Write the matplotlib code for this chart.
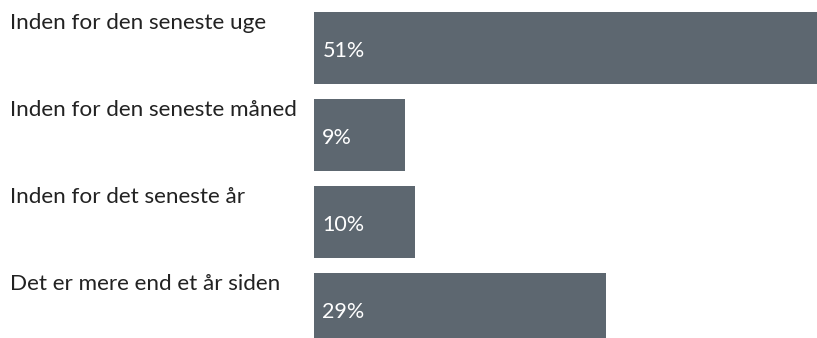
import matplotlib
matplotlib.use("Agg")
import matplotlib.pyplot as plt
from matplotlib.transforms import blended_transform_factory

# Survey answers: when did you last ...
categories = [
    "Inden for den seneste uge",
    "Inden for den seneste måned",
    "Inden for det seneste år",
    "Det er mere end et år siden",
]
values = [51, 9, 10, 29]
value_labels = ["51%", "9%", "10%", "29%"]

BAR_COLOR = "#5d6770"
TEXT_COLOR = "#222222"
FONT = ["Lato", "DejaVu Sans"]

W, H, DPI = 817, 338, 100
fig = plt.figure(figsize=(W / DPI, H / DPI), dpi=DPI)
fig.patch.set_facecolor("white")

# Bars start at x=314 px and run to the right edge of the figure.
left_px = 314
ax = fig.add_axes([left_px / W, 0, 1 - left_px / W, 1])
px_per_unit = 10.07
ax.set_xlim(0, (W - left_px) / px_per_unit)

# Row pitch of 87 px, first bar centred at 48 px from the top.
pitch, first_center = 87.0, 48.0
ax.set_ylim((H - first_center) / pitch, (0 - first_center) / pitch)
bar_h = 72 / pitch

pos = list(range(len(categories)))
ax.barh(pos, values, height=bar_h, color=BAR_COLOR, edgecolor="none")
ax.axis("off")

trans = blended_transform_factory(fig.transFigure, ax.transData)
for i, (cat, v, lab) in enumerate(zip(categories, values, value_labels)):
    ax.text(10 / W, i - bar_h / 2 + 1 / pitch, cat, transform=trans,
            ha="left", va="top", fontsize=16.2, color=TEXT_COLOR, family=FONT)
    ax.annotate(lab, xy=(0, i), xytext=(6, -2.5), textcoords="offset points",
                ha="left", va="center", fontsize=15.5, color="white", family=FONT)

fig.savefig("out.png", dpi=DPI)
